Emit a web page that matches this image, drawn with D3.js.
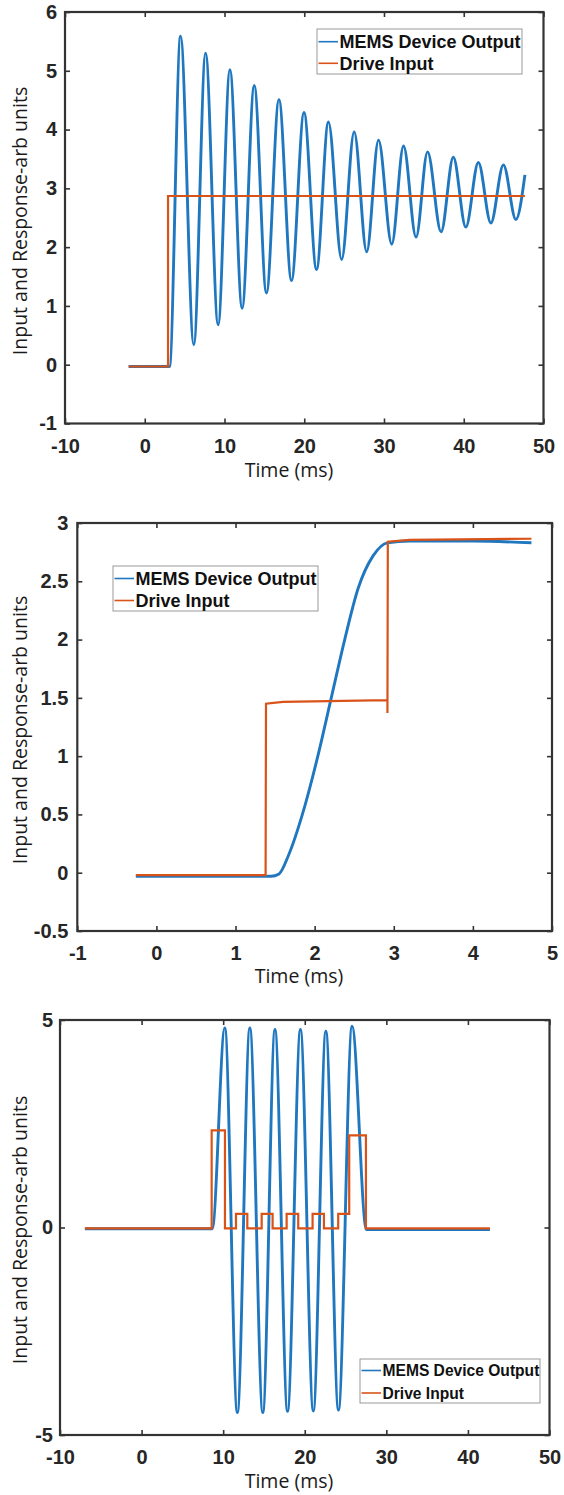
<!DOCTYPE html>
<html>
<head>
<meta charset="utf-8">
<script src="https://cdn.jsdelivr.net/npm/d3@7"></script>
<style>
    body { margin: 0; background: #fff; }
    .tick text { font-family: "Liberation Sans", Arial, sans-serif; font-weight: bold; font-size: 20px; fill: #262626; }
    .axis-label { font-family: "Open Sans", sans-serif; font-size: 19.5px; fill: #1a1a1a; }
    .legend text { font-family: "Liberation Sans", Arial, sans-serif; font-weight: bold; fill: #111; }
</style>
</head>
<body>
<div id="chart"></div>
<script>
var legend_names = ["MEMS Device Output", "Drive Input"];

// panel 1: step drive, ringing output (extrema)
var step_time = [-2.02, 3.1, 4.49, 6.15, 7.63, 9.20, 10.68, 12.21, 13.73, 15.26, 16.83, 18.40, 19.97, 21.54, 23.03, 24.69,
    26.26, 27.83, 29.31, 30.97, 32.45, 34.02, 35.46, 37.16, 38.69, 40.26, 41.83, 43.40, 44.97, 46.54, 47.67];
var step_output = [-0.03, -0.03, 5.59, 0.34, 5.30, 0.68, 5.02, 0.96, 4.75, 1.22, 4.51, 1.43, 4.29, 1.62, 4.13, 1.79,
    3.96, 1.92, 3.82, 2.05, 3.72, 2.17, 3.62, 2.26, 3.53, 2.34, 3.44, 2.41, 3.40, 2.47, 3.23];
var step_drive_time = [-2.02, 2.92, 47.67];
var step_drive = [-0.03, 2.87, 2.87];
var step_x_ticks = [-10, 0, 10, 20, 30, 40, 50];
var step_y_ticks = [-1, 0, 1, 2, 3, 4, 5, 6];

// panel 2: two-step drive, no overshoot
var two_time = [-0.26, 1.45, 1.55, 1.67, 1.845, 2.04, 2.21, 2.38, 2.55, 2.74, 2.92, 3.2, 4.0, 4.74];
var two_output = [-0.03, -0.03, -0.01, 0.15, 0.5, 1.0, 1.5, 2.0, 2.44, 2.72, 2.83, 2.845, 2.845, 2.83];
var two_drive_time = [-0.26, 1.38, 1.385, 1.6, 2.92, 2.92, 2.925, 3.2, 4.74];
var two_drive = [-0.02, -0.02, 1.45, 1.465, 1.48, 1.37, 2.84, 2.855, 2.865];
var two_x_ticks = [-1, 0, 1, 2, 3, 4, 5];
var two_y_ticks = [-0.5, 0, 0.5, 1, 1.5, 2, 2.5, 3];

// panel 3: burst drive
var burst_time = [-6.95, 8.66, 10.2, 11.74, 13.27, 14.86, 16.35, 17.89, 19.47, 21.05, 22.59, 24.13, 25.8, 27.56, 42.7];
var burst_output = [-0.03, -0.03, 4.81, -4.46, 4.81, -4.46, 4.77, -4.43, 4.77, -4.42, 4.73, -4.4, 4.85, -0.05, -0.05];
var burst_drive_time = [-6.95, 8.59, 10.22, 11.57, 12.96, 14.72, 16.06, 17.78, 19.2, 20.96, 22.35, 24.1, 25.45, 27.5, 42.7];
var burst_drive = [-0.02, 2.34, -0.02, 0.33, -0.02, 0.33, -0.02, 0.33, -0.02, 0.33, -0.02, 0.33, 2.22, -0.02, -0.02];
var burst_x_ticks = [-10, 0, 10, 20, 30, 40, 50];
var burst_y_ticks = [-5, 0, 5];

var blue = "#1f77c0";
var orange = "#d95319";
var axis_color = "#333";
var tick_len = 5;

var width = 564;
var height = 1495;

function zip(a, b) {
    return a.map(function (d, i) { return [d, b[i]]; });
}

var panels = [
    {
        box: { l: 65, r: 543.5, t: 12, b: 423.5 },
        x_domain: [-10, 50], y_domain: [-1, 6],
        x_ticks: step_x_ticks, y_ticks: step_y_ticks,
        output: zip(step_time, step_output), drive: zip(step_drive_time, step_drive),
        drive_curve: d3.curveStepAfter,
        legend: { x: 317, y: 29, w: 205, h: 45, rows: [41.7, 63.3], font: 18 },
        xlabel: [289, 477], ylabel_y: 221, ypad: 8
    },
    {
        box: { l: 77.3, r: 552, t: 523, b: 931 },
        x_domain: [-1, 5], y_domain: [-0.5, 3],
        x_ticks: two_x_ticks, y_ticks: two_y_ticks,
        output: zip(two_time, two_output), drive: zip(two_drive_time, two_drive),
        drive_curve: d3.curveLinear,
        legend: { x: 113, y: 566, w: 205, h: 45, rows: [578.5, 600.5], font: 18 },
        xlabel: [299, 983], ylabel_y: 730, ypad: 9
    },
    {
        box: { l: 60, r: 549.5, t: 1020, b: 1435 },
        x_domain: [-10, 50], y_domain: [-5, 5],
        x_ticks: burst_x_ticks, y_ticks: burst_y_ticks,
        output: zip(burst_time, burst_output), drive: zip(burst_drive_time, burst_drive),
        drive_curve: d3.curveStepAfter,
        legend: { x: 360, y: 1359, w: 180, h: 44, rows: [1370.5, 1393], font: 15.6 },
        xlabel: [289, 1488], ylabel_y: 1230, ypad: 7
    }
];

var svg = d3.select("#chart").append("svg")
    .attr("width", width)
    .attr("height", height)
    .style("background", "#fff");

panels.forEach(function (p) {
    var x = d3.scaleLinear().domain(p.x_domain).range([p.box.l, p.box.r]);
    var y = d3.scaleLinear().domain(p.y_domain).range([p.box.b, p.box.t]);
    var fmt = function (d) { return String(d); };

    var g = svg.append("g").attr("class", "panel");

    // ticks inside on all four sides, labels only bottom/left
    g.append("g")
        .attr("transform", "translate(0," + p.box.b + ")")
        .call(d3.axisBottom(x).tickValues(p.x_ticks).tickFormat(fmt).tickSizeInner(-tick_len).tickSizeOuter(0).tickPadding(15));
    g.append("g")
        .attr("transform", "translate(" + p.box.l + ",0)")
        .call(d3.axisLeft(y).tickValues(p.y_ticks).tickFormat(fmt).tickSizeInner(-tick_len).tickSizeOuter(0).tickPadding(p.ypad));
    g.append("g")
        .attr("transform", "translate(0," + p.box.t + ")")
        .call(d3.axisTop(x).tickValues(p.x_ticks).tickFormat("").tickSizeInner(-tick_len).tickSizeOuter(0));
    g.append("g")
        .attr("transform", "translate(" + p.box.r + ",0)")
        .call(d3.axisRight(y).tickValues(p.y_ticks).tickFormat("").tickSizeInner(-tick_len).tickSizeOuter(0));

    g.selectAll(".domain").remove();
    g.selectAll(".tick line").attr("stroke", axis_color).attr("stroke-width", 1.6);

    var line_out = d3.line()
        .x(function (d) { return x(d[0]); })
        .y(function (d) { return y(d[1]); })
        .curve(d3.curveMonotoneX);
    var line_drive = d3.line()
        .x(function (d) { return x(d[0]); })
        .y(function (d) { return y(d[1]); })
        .curve(p.drive_curve);

    g.append("path")
        .datum(p.output)
        .attr("d", line_out)
        .attr("fill", "none")
        .attr("stroke", blue)
        .attr("stroke-width", 2.9)
        .attr("stroke-linejoin", "round");

    g.append("path")
        .datum(p.drive)
        .attr("d", line_drive)
        .attr("fill", "none")
        .attr("stroke", orange)
        .attr("stroke-width", 2.2);

    // box
    g.append("rect")
        .attr("x", p.box.l)
        .attr("y", p.box.t)
        .attr("width", p.box.r - p.box.l)
        .attr("height", p.box.b - p.box.t)
        .attr("fill", "none")
        .attr("stroke", axis_color)
        .attr("stroke-width", 2.2);

    // legend
    var lg = g.append("g").attr("class", "legend");
    lg.append("rect")
        .attr("x", p.legend.x)
        .attr("y", p.legend.y)
        .attr("width", p.legend.w)
        .attr("height", p.legend.h)
        .attr("fill", "#fff")
        .attr("stroke", "#999")
        .attr("stroke-width", 1);
    [blue, orange].forEach(function (c, i) {
        var ry = p.legend.rows[i];
        lg.append("line")
            .attr("x1", p.legend.x + 1.5)
            .attr("x2", p.legend.x + 21)
            .attr("y1", ry)
            .attr("y2", ry)
            .attr("stroke", c)
            .attr("stroke-width", 1.6);
        lg.append("text")
            .attr("x", p.legend.x + 22.5)
            .attr("y", ry)
            .attr("dy", "0.36em")
            .style("font-size", p.legend.font + "px")
            .text(legend_names[i]);
    });

    // axis titles
    g.append("text")
        .attr("class", "axis-label")
        .attr("x", p.xlabel[0])
        .attr("y", p.xlabel[1])
        .attr("text-anchor", "middle")
        .text("Time (ms)");
    g.append("text")
        .attr("class", "axis-label")
        .attr("transform", "translate(27," + p.ylabel_y + ") rotate(-90)")
        .attr("text-anchor", "middle")
        .text("Input and Response-arb units");
});
</script>
</body>
</html>
